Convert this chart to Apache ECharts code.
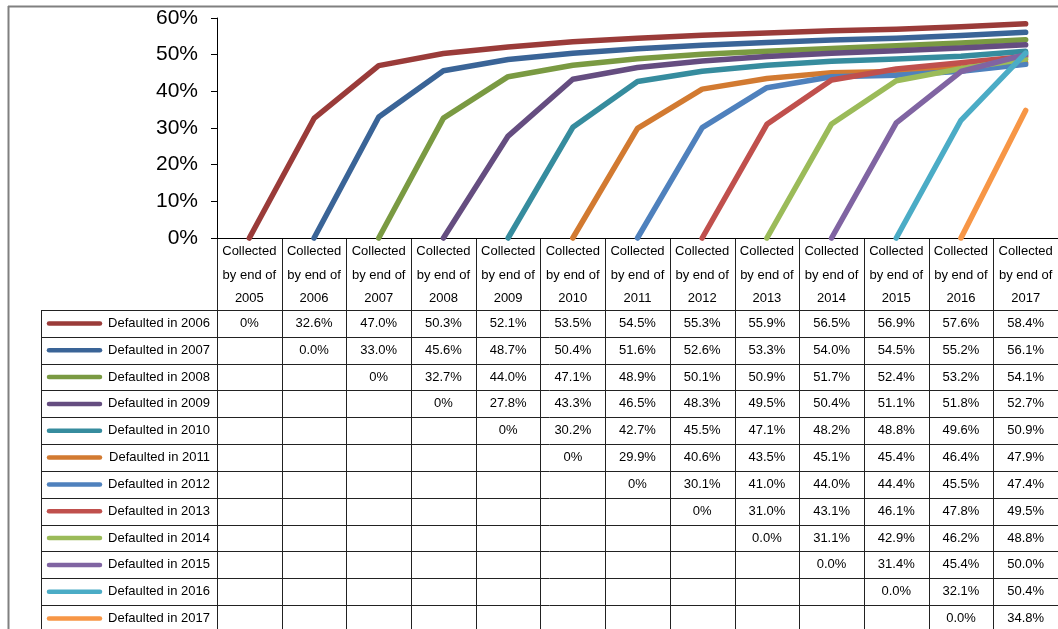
<!DOCTYPE html>
<html>
<head>
<meta charset="utf-8">
<script src="https://cdn.jsdelivr.net/npm/echarts@6/dist/echarts.min.js"></script>
<style>
html, body { margin: 0; padding: 0; background: #fff; }
#main { width: 1058px; height: 629px; }
</style>
</head>
<body>
<div id="main"></div>
<script>
// column years (x axis categories)
var years = ['2005', '2006', '2007', '2008', '2009', '2010', '2011', '2012', '2013', '2014', '2015', '2016', '2017'];
var seriesNames = ['Defaulted in 2006', 'Defaulted in 2007', 'Defaulted in 2008', 'Defaulted in 2009',
    'Defaulted in 2010', 'Defaulted in 2011', 'Defaulted in 2012', 'Defaulted in 2013',
    'Defaulted in 2014', 'Defaulted in 2015', 'Defaulted in 2016', 'Defaulted in 2017'];
var colors = ['#9A3B39', '#3A6497', '#7A9A42', '#654D80', '#368C9E', '#D27A31',
    '#4F81BD', '#C0504D', '#9BBB59', '#8064A2', '#4BACC6', '#F79646'];
var yTicks = [0, 10, 20, 30, 40, 50, 60];

// table cells as printed (empty = no value yet)
var d2006 = ['0%', '32.6%', '47.0%', '50.3%', '52.1%', '53.5%', '54.5%', '55.3%', '55.9%', '56.5%', '56.9%', '57.6%', '58.4%'];
var d2007 = ['', '0.0%', '33.0%', '45.6%', '48.7%', '50.4%', '51.6%', '52.6%', '53.3%', '54.0%', '54.5%', '55.2%', '56.1%'];
var d2008 = ['', '', '0%', '32.7%', '44.0%', '47.1%', '48.9%', '50.1%', '50.9%', '51.7%', '52.4%', '53.2%', '54.1%'];
var d2009 = ['', '', '', '0%', '27.8%', '43.3%', '46.5%', '48.3%', '49.5%', '50.4%', '51.1%', '51.8%', '52.7%'];
var d2010 = ['', '', '', '', '0%', '30.2%', '42.7%', '45.5%', '47.1%', '48.2%', '48.8%', '49.6%', '50.9%'];
var d2011 = ['', '', '', '', '', '0%', '29.9%', '40.6%', '43.5%', '45.1%', '45.4%', '46.4%', '47.9%'];
var d2012 = ['', '', '', '', '', '', '0%', '30.1%', '41.0%', '44.0%', '44.4%', '45.5%', '47.4%'];
var d2013 = ['', '', '', '', '', '', '', '0%', '31.0%', '43.1%', '46.1%', '47.8%', '49.5%'];
var d2014 = ['', '', '', '', '', '', '', '', '0.0%', '31.1%', '42.9%', '46.2%', '48.8%'];
var d2015 = ['', '', '', '', '', '', '', '', '', '0.0%', '31.4%', '45.4%', '50.0%'];
var d2016 = ['', '', '', '', '', '', '', '', '', '', '0.0%', '32.1%', '50.4%'];
var d2017 = ['', '', '', '', '', '', '', '', '', '', '', '0.0%', '34.8%'];
var rows = [d2006, d2007, d2008, d2009, d2010, d2011, d2012, d2013, d2014, d2015, d2016, d2017];

var FONT = 'Liberation Sans, Arial, sans-serif';

var myChart = echarts.init(document.getElementById('main'));

var series = rows.map(function (r, i) {
    return {
        name: seriesNames[i],
        type: 'line',
        symbol: 'none',
        clip: false,
        lineStyle: { width: 5.5, color: colors[i], cap: 'round', join: 'round' },
        data: r.map(function (s) { return s === '' ? null : parseFloat(s); })
    };
});

var option = {
    animation: false,
    backgroundColor: '#fff',
    grid: { left: 217, right: 0, top: 18, bottom: 391 },
    xAxis: {
        type: 'category',
        data: years,
        boundaryGap: true,
        axisLine: { lineStyle: { color: '#000', width: 1 } },
        axisTick: { show: false },
        axisLabel: { show: false },
        splitLine: { show: false }
    },
    yAxis: {
        type: 'value',
        min: yTicks[0],
        max: yTicks[yTicks.length - 1],
        interval: 10,
        axisLine: { show: true, lineStyle: { color: '#000', width: 1 } },
        axisTick: { show: true, length: 6, lineStyle: { color: '#000' } },
        axisLabel: { formatter: '{value}%', fontSize: 21, color: '#000', fontFamily: FONT, margin: 19 },
        splitLine: { show: false }
    },
    series: series
};

myChart.setOption(option, true);

// data table under the plot, aligned to the category axis
function buildTable() {
    var c0 = myChart.convertToPixel({ xAxisIndex: 0 }, 0);
    var c1 = myChart.convertToPixel({ xAxisIndex: 0 }, 1);
    var colW = c1 - c0;
    var top = Math.round(myChart.convertToPixel({ yAxisIndex: 0 }, 0));
    var headH = 72;
    var rowH = 26.83;
    var left = Math.round(c0 - colW / 2);
    var legendLeft = 41;
    var right = 1058;
    var bodyTop = top + headH;
    var g = [];

    function hline(x1, x2, y, c) {
        g.push({ type: 'line', silent: true, shape: { x1: x1, y1: Math.round(y) + 0.5, x2: x2, y2: Math.round(y) + 0.5 },
            style: { stroke: c || '#222', lineWidth: 1 } });
    }
    function vline(x, y1, y2, c) {
        g.push({ type: 'line', silent: true, shape: { x1: Math.round(x) + 0.5, y1: y1, x2: Math.round(x) + 0.5, y2: y2 },
            style: { stroke: c || '#222', lineWidth: 1 } });
    }
    function text(s, x, y, align) {
        g.push({ type: 'text', silent: true, x: x, y: y,
            style: { text: s, font: '13px ' + FONT, fill: '#000', align: align || 'center', verticalAlign: 'middle' } });
    }

    // outer frame
    g.push({ type: 'line', silent: true, shape: { x1: 8, y1: 6.5, x2: 1058, y2: 6.5 }, style: { stroke: '#808080', lineWidth: 2 } });
    g.push({ type: 'line', silent: true, shape: { x1: 8.5, y1: 6, x2: 8.5, y2: 629 }, style: { stroke: '#808080', lineWidth: 2 } });

    // column boundaries
    for (var k = 0; k <= years.length; k++) {
        vline(left + k * colW, top, 629);
    }
    vline(legendLeft, bodyTop, 629);

    // header text
    years.forEach(function (y, k) {
        var cx = c0 + k * colW;
        text('Collected', cx, top + 13);
        text('by end of', cx, top + 37);
        text(y, cx, top + 60);
    });

    // row lines and cells
    for (var r = 0; r <= rows.length; r++) {
        hline(legendLeft, right, bodyTop + r * rowH);
    }
    rows.forEach(function (row, r) {
        var cy = bodyTop + r * rowH + rowH / 2;
        g.push({ type: 'line', silent: true, shape: { x1: 49, y1: cy, x2: 100, y2: cy },
            style: { stroke: colors[r], lineWidth: 4.5, lineCap: 'round' } });
        text(seriesNames[r], 210, cy, 'right');
        row.forEach(function (s, k) {
            if (s !== '') text(s, c0 + k * colW, cy);
        });
    });

    myChart.setOption({ graphic: { elements: g } });
}
buildTable();
window.onresize = myChart.resize;
</script>
</body>
</html>
